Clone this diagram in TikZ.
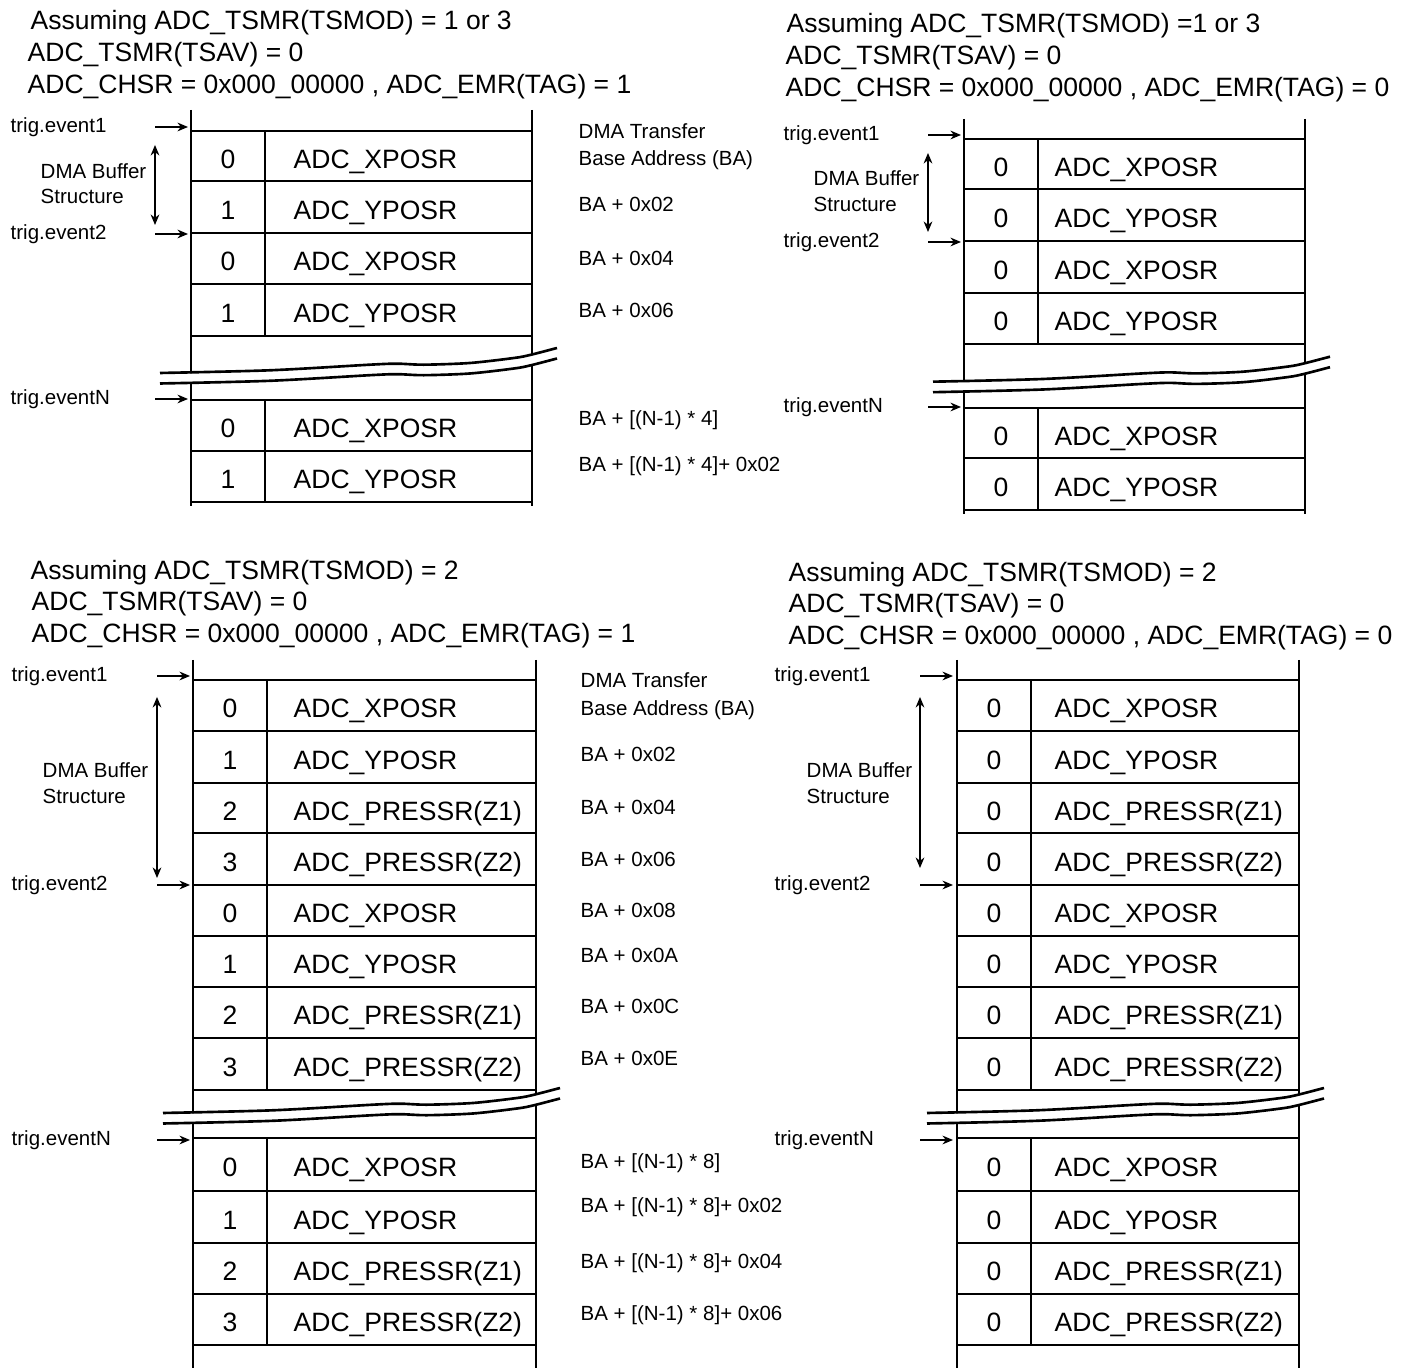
\documentclass[tikz,border=0pt]{standalone}
\usepackage{fontspec}
\setmainfont{Liberation Sans}
\usetikzlibrary{arrows.meta}

\tikzset{
  reg/.style={font=\fontsize{7.54}{9}\selectfont, anchor=base west, inner sep=0pt},
  idx/.style={font=\fontsize{7.54}{9}\selectfont, anchor=base, inner sep=0pt},
  head/.style={font=\fontsize{7.54}{9}\selectfont, anchor=base west, inner sep=0pt},
  lbl/.style={font=\fontsize{5.83}{7}\selectfont, anchor=base west, inner sep=0pt},
  outer/.style={line width=0.8pt},
  rowline/.style={line width=0.55pt},
  thinline/.style={line width=0.35pt},
  trigarrow/.style={line width=0.35pt, -{Stealth[length=3pt,width=2.5pt]}},
  spanarrow/.style={line width=0.35pt, {Stealth[length=3pt,width=2.5pt]}-{Stealth[length=3pt,width=2.5pt]}},
  breakline/.style={line width=0.75pt},
  breakgap/.style={white, line width=2.4pt},
}

% wavy cut across a buffer, #1/#2 = left end of upper line
\newcommand\drawbreak[2]{%
  \foreach \off/\sty in {5.25/breakgap, 0/breakline, 10.5/breakline}
    \draw[\sty, shift={(#1,#2+\off)}] plot[smooth] coordinates
      {(0,0) (110,-2.7) (210,-8.3) (237,-9.3) (264,-8.3) (310,-10) (354,-15) (370,-18) (397,-25)};
}

\begin{document}
\begin{tikzpicture}[x=0.01cm, y=-0.01cm]
\useasboundingbox (0,0) rectangle (1408,1368);

% ---------- top left: TSMOD = 1 or 3, TAG = 1
\node[head] (tlh1) at (30,29.5) {Assuming ADC\_TSMR(TSMOD) = 1 or 3};
\node[head] (tlh2) at (27,61.5) {ADC\_TSMR(TSAV) = 0};
\node[head] (tlh3) at (27,93.5) {ADC\_CHSR = 0x000\_00000 , ADC\_EMR(TAG) = 1};
\foreach \y/\s in {131/thinline,181/rowline,233/rowline,284/rowline,336/rowline,400/thinline,451/rowline,502/thinline}
  \draw[\s] (191,\y) -- (532,\y);
\draw[thinline] (265,131) -- (265,336) (265,400) -- (265,502);
\draw[outer] (191,110) -- (191,506) (532,110) -- (532,506);
\foreach \y/\i/\r [count=\n] in {156/0/XPOSR,207/1/YPOSR,258.5/0/XPOSR,310/1/YPOSR,425.5/0/XPOSR,476.5/1/YPOSR}{
  \node[idx] (tli\n) at (228,\y+12.5) {\i};
  \node[reg] (tlr\n) at (293,\y+12.5) {ADC\_\r};
}
\drawbreak{160}{373}
\foreach \y/\lab/\nm in {127/trig.event1/a,234/trig.event2/b,399/trig.eventN/c}{
  \node[lbl] (tlt\nm) at (10,\y+5.3) {\lab};
  \coordinate (tlt\nm s) at (155,\y);
  \coordinate (tlt\nm e) at (188,\y);
  \draw[trigarrow] (tlt\nm s) -- (tlt\nm e);
}
\coordinate (tlspa) at (155,145);
\coordinate (tlspb) at (155,225);
\draw[spanarrow] (tlspa) -- (tlspb);
\node[lbl] (tlbuf1) at (40,178.3) {DMA Buffer};
\node[lbl] (tlbuf2) at (40,203.3) {Structure};
\foreach \y/\t [count=\n] in {131/DMA Transfer,158/Base Address (BA),204/BA + 0x02,258/BA + 0x04,310/BA + 0x06,418/BA + [(N-1) * 4],464/BA + [(N-1) * 4]+ 0x02}
  \node[lbl] (tladdr\n) at (578,\y+7.3) {\t};

% ---------- top right: TSMOD = 1 or 3, TAG = 0
\node[head] (trh1) at (786,32.5) {Assuming ADC\_TSMR(TSMOD) =1 or 3};
\node[head] (trh2) at (785,64.5) {ADC\_TSMR(TSAV) = 0};
\node[head] (trh3) at (785,96.5) {ADC\_CHSR = 0x000\_00000 , ADC\_EMR(TAG) = 0};
\foreach \y/\s in {139/thinline,189/rowline,241/rowline,293/rowline,344/rowline,408/thinline,458/rowline,510/thinline}
  \draw[\s] (964,\y) -- (1305,\y);
\draw[thinline] (1038,139) -- (1038,344) (1038,408) -- (1038,510);
\draw[outer] (964,119) -- (964,514) (1305,119) -- (1305,514);
\foreach \y/\r [count=\n] in {164/XPOSR,215/YPOSR,267/XPOSR,318.5/YPOSR,433/XPOSR,484/YPOSR}{
  \node[idx] (tri\n) at (1001,\y+12.5) {0};
  \node[reg] (trr\n) at (1054,\y+12.5) {ADC\_\r};
}
\drawbreak{933}{381.7}
\foreach \y/\lab/\nm in {135/trig.event1/a,242/trig.event2/b,407/trig.eventN/c}{
  \node[lbl] (trt\nm) at (783,\y+5.3) {\lab};
  \coordinate (trt\nm s) at (928,\y);
  \coordinate (trt\nm e) at (961,\y);
  \draw[trigarrow] (trt\nm s) -- (trt\nm e);
}
\coordinate (trspa) at (928,153);
\coordinate (trspb) at (928,232);
\draw[spanarrow] (trspa) -- (trspb);
\node[lbl] (trbuf1) at (813,185.3) {DMA Buffer};
\node[lbl] (trbuf2) at (813,211.3) {Structure};

% ---------- bottom left: TSMOD = 2, TAG = 1
\node[head] (blh1) at (30,579.5) {Assuming ADC\_TSMR(TSMOD) = 2};
\node[head] (blh2) at (31,610.5) {ADC\_TSMR(TSAV) = 0};
\node[head] (blh3) at (31,642.5) {ADC\_CHSR = 0x000\_00000 , ADC\_EMR(TAG) = 1};
\foreach \y/\s in {680/thinline,731/rowline,783/rowline,833/rowline,885/rowline,936/rowline,987/rowline,1038/rowline,1090/thinline,
                   1138/thinline,1191/rowline,1243/rowline,1294/rowline,1345/thinline}
  \draw[\s] (193,\y) -- (536,\y);
\draw[thinline] (267,680) -- (267,1090) (267,1138) -- (267,1345);
\draw[outer] (193,660) -- (193,1368) (536,660) -- (536,1368);
\foreach \y/\i/\r [count=\n] in {705.5/0/XPOSR,757/1/YPOSR,808/2/PRESSR(Z1),859/3/PRESSR(Z2),
                                 910.5/0/XPOSR,961.5/1/YPOSR,1012.5/2/PRESSR(Z1),1064/3/PRESSR(Z2),
                                 1164.5/0/XPOSR,1217/1/YPOSR,1268.5/2/PRESSR(Z1),1319.5/3/PRESSR(Z2)}{
  \node[idx] (bli\n) at (230,\y+12.5) {\i};
  \node[reg] (blr\n) at (293,\y+12.5) {ADC\_\r};
}
\drawbreak{163}{1113}
\foreach \y/\lab/\nm in {676/trig.event1/a,885/trig.event2/b,1140/trig.eventN/c}{
  \node[lbl] (blt\nm) at (11,\y+5.3) {\lab};
  \coordinate (blt\nm s) at (157,\y);
  \coordinate (blt\nm e) at (190,\y);
  \draw[trigarrow] (blt\nm s) -- (blt\nm e);
}
\coordinate (blspa) at (157,697);
\coordinate (blspb) at (157,878);
\draw[spanarrow] (blspa) -- (blspb);
\node[lbl] (blbuf1) at (42,777.3) {DMA Buffer};
\node[lbl] (blbuf2) at (42,803.3) {Structure};
\foreach \y/\t [count=\n] in {680/DMA Transfer,708/Base Address (BA),754/BA + 0x02,807/BA + 0x04,859/BA + 0x06,
                              910/BA + 0x08,955/BA + 0x0A,1006/BA + 0x0C,1058/BA + 0x0E,1161/BA + [(N-1) * 8],
                              1205/BA + [(N-1) * 8]+ 0x02,1261/BA + [(N-1) * 8]+ 0x04,1313/BA + [(N-1) * 8]+ 0x06}
  \node[lbl] (bladdr\n) at (580,\y+7.3) {\t};

% ---------- bottom right: TSMOD = 2, TAG = 0
\node[head] (brh1) at (788,581.5) {Assuming ADC\_TSMR(TSMOD) = 2};
\node[head] (brh2) at (788,612.5) {ADC\_TSMR(TSAV) = 0};
\node[head] (brh3) at (788,644.5) {ADC\_CHSR = 0x000\_00000 , ADC\_EMR(TAG) = 0};
\foreach \y/\s in {680/thinline,731/rowline,783/rowline,833/rowline,885/rowline,936/rowline,987/rowline,1038/rowline,1090/thinline,
                   1138/thinline,1191/rowline,1243/rowline,1294/rowline,1345/thinline}
  \draw[\s] (957,\y) -- (1299,\y);
\draw[thinline] (1031,680) -- (1031,1090) (1031,1138) -- (1031,1345);
\draw[outer] (957,660) -- (957,1368) (1299,660) -- (1299,1368);
\foreach \y/\r [count=\n] in {705.5/XPOSR,757/YPOSR,808/PRESSR(Z1),859/PRESSR(Z2),
                              910.5/XPOSR,961.5/YPOSR,1012.5/PRESSR(Z1),1064/PRESSR(Z2),
                              1164.5/XPOSR,1217/YPOSR,1268.5/PRESSR(Z1),1319.5/PRESSR(Z2)}{
  \node[idx] (bri\n) at (994,\y+12.5) {0};
  \node[reg] (brr\n) at (1054,\y+12.5) {ADC\_\r};
}
\drawbreak{927}{1113}
\foreach \y/\lab/\nm in {676/trig.event1/a,885/trig.event2/b,1140/trig.eventN/c}{
  \node[lbl] (brt\nm) at (774,\y+5.3) {\lab};
  \coordinate (brt\nm s) at (920,\y);
  \coordinate (brt\nm e) at (953,\y);
  \draw[trigarrow] (brt\nm s) -- (brt\nm e);
}
\coordinate (brspa) at (920,697);
\coordinate (brspb) at (920,868);
\draw[spanarrow] (brspa) -- (brspb);
\node[lbl] (brbuf1) at (806,777.3) {DMA Buffer};
\node[lbl] (brbuf2) at (806,803.3) {Structure};
\end{tikzpicture}
\end{document}
